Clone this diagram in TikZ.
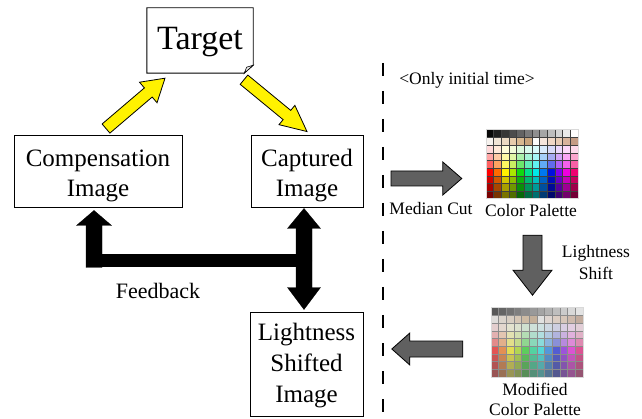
\documentclass[tikz,border=0pt]{standalone}
\usepackage{fontspec}
\setmainfont{Liberation Serif}
\usetikzlibrary{calc}

% base hues of the palette columns
\definecolor{pc1}{HTML}{FF0000}
\definecolor{pc2}{HTML}{FF6A00}
\definecolor{pc3}{HTML}{FFF200}
\definecolor{pc4}{HTML}{A8E600}
\definecolor{pc5}{HTML}{10D810}
\definecolor{pc6}{HTML}{00E08A}
\definecolor{pc7}{HTML}{00E8E8}
\definecolor{pc8}{HTML}{0078F0}
\definecolor{pc9}{HTML}{0010E0}
\definecolor{pc10}{HTML}{8000F0}
\definecolor{pc11}{HTML}{F000E0}
\definecolor{pc12}{HTML}{F00070}
% tan / skin row
\definecolor{tn1}{HTML}{F6F2EE}
\definecolor{tn2}{HTML}{F0E4D6}
\definecolor{tn3}{HTML}{ECDAC4}
\definecolor{tn4}{HTML}{E6CCAC}
\definecolor{tn5}{HTML}{D8B890}
\definecolor{tn6}{HTML}{C8A47C}
\definecolor{tn7}{HTML}{FCFCFA}
\definecolor{tn8}{HTML}{F6E6DC}
\definecolor{tn9}{HTML}{F0D8C6}
\definecolor{tn10}{HTML}{E8CCB4}
\definecolor{tn11}{HTML}{D8B49C}
\definecolor{tn12}{HTML}{C49C84}
\definecolor{arrowgray}{HTML}{606060}

\tikzset{
  box/.style={draw, line width=0.9pt, inner sep=0pt, align=center,
    font=\fontsize{25}{30}\selectfont},
  small/.style={inner sep=0pt, align=center, font=\fontsize{17.5}{22}\selectfont},
  yarrow/.style={fill=yellow, draw=black, line width=0.8pt, line join=miter},
  garrow/.style={fill=arrowgray, draw=black, line width=0.8pt, line join=miter},
  karrow/.style={fill=black, draw=black, line width=0.3pt},
  palframe/.style={inner sep=0pt, minimum width=92pt, minimum height=69pt},
}

% block arrow: #1 style, #2 tail, #3 tip, #4 shaft half width,
% #5 head half width, #6 head length
\newcommand\blockarrow[6]{%
  \path (#2) coordinate (baT) (#3) coordinate (baP);
  \path ($(baP)!#6!(baT)$) coordinate (baH);
  \draw[#1] ($(baT)!#4!90:(baP)$) -- ($(baH)!#4!-90:(baT)$)
    -- ($(baH)!#5!-90:(baT)$) -- (baP) -- ($(baH)!#5!90:(baT)$)
    -- ($(baH)!#4!90:(baT)$) -- ($(baT)!#4!-90:(baP)$) -- cycle;
}

% 12 x 9 colour palette inside node #1; #2 is an extra colour mix
\newcommand\palettecells[3]{%
  \begin{scope}[shift={(#1.north west)}]
    \foreach \c in {1,...,12}{
      \pgfmathsetmacro\gl{int(max(0,97-8.8*(\c-1)))}
      \fill[black!\gl!white#2] ({(\c-1)*92/12},0) rectangle ++(92/12,69/9);
      \fill[tn\c#2] ({(\c-1)*92/12},69/9) rectangle ++(92/12,69/9);
      \foreach \r/\mx in {3/!15!white, 4/!35!white, 5/!62!white, 6/,
                          7/!82!black, 8/!66!black, 9/!48!black}{
        \fill[pc\c\mx#2] ({(\c-1)*92/12},{(\r-1)*69/9}) rectangle ++(92/12,69/9);
      }
    }
    \foreach \c in {1,...,11}
      \draw[#3, line width=0.45pt] ({\c*92/12},0) -- ({\c*92/12},69);
    \foreach \r in {1,...,8}
      \draw[#3, line width=0.45pt] (0,{\r*69/9}) -- (92,{\r*69/9});
    \draw[black!15, line width=0.6pt] (0,0) rectangle (92,69);
  \end{scope}
}

\begin{document}
\begin{tikzpicture}[x=1pt, y=-1pt]
\useasboundingbox (0,0) rectangle (642,419);

% Target sheet with a curled corner
\node[inner sep=0pt, minimum width=106pt, minimum height=65pt,
      text height=25pt, text depth=6pt,
      font=\fontsize{34}{40}\selectfont] (target) at (200,40.5) {Target};
\draw[line width=0.9pt, line join=miter] (target.north west) -- (target.north east)
  -- ([yshift=8pt]target.south east) -- ([xshift=-9pt]target.south east)
  -- (target.south west) -- cycle;
\draw[line width=0.6pt, fill=black!6] ([yshift=8pt]target.south east)
  -- ([xshift=-6.5pt,yshift=6pt]target.south east)
  -- ([xshift=-9pt]target.south east) -- cycle;

% image boxes (the last text line sits on the node's baseline)
\node[box, minimum width=168pt, minimum height=72pt, text height=56pt, text depth=4pt]
  (comp) at (98,171) {Compensation\\Image};
\node[box, minimum width=112pt, minimum height=72pt, text height=56pt, text depth=4pt]
  (capt) at (307,171) {Captured\\Image};
\node[box, minimum width=113pt, minimum height=104pt, text height=80pt, text depth=4pt,
      font=\fontsize{25}{31}\selectfont]
  (light) at (306.5,364) {Lightness\\Shifted\\Image};

% yellow arrows around the target
\coordinate (yA) at ([xshift=8pt,yshift=6pt]comp.north);
\coordinate (yB) at ([xshift=-35pt,yshift=-5pt]target.south);
\coordinate (yC) at ([xshift=44pt,yshift=-6.5pt]target.south);
\coordinate (yD) at ([yshift=3pt]capt.north);
\blockarrow{yarrow}{yA}{yB}{6pt}{13.5pt}{22pt}
\blockarrow{yarrow}{yC}{yD}{6pt}{12.5pt}{26pt}

% feedback loop
\coordinate (fbUp) at ([xshift=-4pt,yshift=-3pt]comp.south);
\coordinate (fbTop) at ([xshift=-3pt,yshift=-1pt]capt.south);
\coordinate (fbBot) at ([xshift=-2.5pt,yshift=2pt]light.north);
\coordinate (fbJoin) at ($(fbTop)+(0,52.5)$);
\coordinate (fbCorner) at ([yshift=-6.5pt]fbUp |- fbJoin);
\fill[black] ([xshift=-8pt]fbUp |- fbJoin) ++(0,-6.5) rectangle ($(fbJoin)+(8,6.5)$);
\blockarrow{karrow}{fbCorner}{fbUp}{8pt}{17.5pt}{15pt}
\blockarrow{karrow}{fbJoin}{fbTop}{8pt}{16.5pt}{20pt}
\blockarrow{karrow}{fbJoin}{fbBot}{8pt}{16.5pt}{22pt}
\node[inner sep=0pt, font=\fontsize{22}{26}\selectfont, anchor=base] (fb) at (158,299) {Feedback};

% separator for the one-time steps
\coordinate (sepTop) at (383,63);
\coordinate (sepBot) at (383,419);
\draw[line width=1.3pt, dash pattern=on 13pt off 15pt] (sepTop) -- (sepBot);
\node[small, anchor=base] (once) at (467,85) {<Only initial time>};

% palettes
\node[palframe] (pal) at (532,164.5) {};
\palettecells{pal}{}{black!75}
\node[small, anchor=base] (palT) at (531,217) {Color Palette};

\node[palframe] (mpal) at (537,342.5) {};
\palettecells{mpal}{!72!gray!78!white}{black!45}
\node[small, anchor=base, font=\fontsize{17.5}{19.5}\selectfont] (mpalT) at (535,415)
  {Modified\\Color Palette};

% grey process arrows
\coordinate (mcA) at (391,178.5);
\coordinate (mcB) at ([xshift=-24pt,yshift=-14pt]pal.west);
\blockarrow{garrow}{mcA}{mcB}{7.5pt}{16.5pt}{19pt}
\node[small, anchor=base] (mc) at (431,215) {Median Cut};

\coordinate (lsA) at ([xshift=0.5pt,yshift=-36pt]pal.south);
\coordinate (lsB) at ([xshift=0.5pt,yshift=-96pt]pal.south);
\blockarrow{garrow}{lsA}{lsB}{9.5pt}{19.5pt}{25pt}
\node[small, anchor=base] (ls) at (596,280) {Lightness\\Shift};

\coordinate (rtA) at ([xshift=-28pt,yshift=-6.5pt]mpal.west);
\coordinate (rtB) at ([xshift=-99pt,yshift=-6.5pt]mpal.west);
\blockarrow{garrow}{rtA}{rtB}{8pt}{16pt}{18pt}
\end{tikzpicture}
\end{document}
